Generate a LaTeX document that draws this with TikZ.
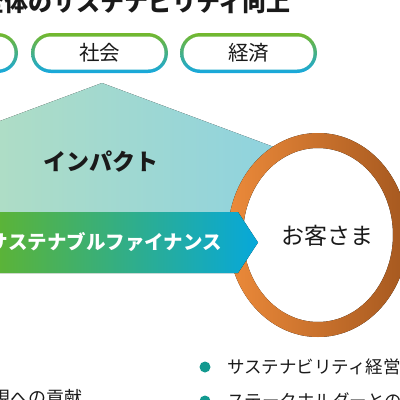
\documentclass[tikz,border=0pt]{standalone}
\usepackage{fontspec}
\setmainfont{Noto Sans CJK JP}
\definecolor{pillG}{HTML}{74B82C}
\definecolor{pillB}{HTML}{16A8E0}
\definecolor{pentL}{HTML}{B8E0BE}
\definecolor{pentR}{HTML}{8DD2E0}
\definecolor{arrL}{HTML}{5EB432}
\definecolor{arrM}{HTML}{119887}
\definecolor{arrR}{HTML}{06A8DA}
\definecolor{ringL}{HTML}{EC8A3A}
\definecolor{ringR}{HTML}{A5581F}
\definecolor{dotC}{HTML}{12998F}
\definecolor{txt}{HTML}{1A1A1A}
\tikzset{
  pillout/.style={rectangle, rounded corners=20pt, top color=pillG, bottom color=pillB,
    minimum width=137pt, minimum height=40pt, inner sep=0pt},
  pillin/.style={rectangle, rounded corners=16.5pt, fill=white,
    minimum width=130pt, minimum height=33pt, inner sep=0pt, text=txt,
    font=\fontsize{20.5}{20.5}\selectfont},
  lbl/.style={inner sep=0pt, text=txt},
  dotmark/.style={circle, fill=dotC, minimum size=11pt, inner sep=0pt}
}
\begin{document}
\begin{tikzpicture}[x=1pt,y=-1pt]
\useasboundingbox (0,0) rectangle (400,400);
\clip (0,0) rectangle (400,400);

% pentagon (impact)
\fill[left color=pentL, right color=pentR] (102,83) -- (290,153) -- (290,245) -- (-86,245) -- (-86,153) -- cycle;

% title
\node[lbl, anchor=east, font=\bfseries\fontsize{24}{24}\selectfont] (title) at (291,2) {社会全体のサステナビリティ向上};

% pills
\node[pillout] (p0o) at (-50.5,53) {};
\node[pillin] (p0) at (-50.5,53) {環境};
\node[pillout] (p1o) at (99.5,53) {};
\node[pillin] (p1) at (99.5,53) {社会};
\node[pillout] (p2o) at (248.5,53) {};
\node[pillin] (p2) at (248.5,53) {経済};

% impact label
\node[lbl, font=\bfseries\fontsize{23}{23}\selectfont] (impact) at (101,162) {インパクト};

% customer ring
\fill[white] (318,235) ellipse [x radius=75pt, y radius=87pt];
\fill[even odd rule, left color=ringL, right color=ringR]
  (318,235) ellipse [x radius=90pt, y radius=102pt]
  (318,235) ellipse [x radius=75pt, y radius=87pt];
\node[lbl, font=\fontsize{23}{23}\selectfont] (cust) at (327.5,236) {お客さま};

% sustainable finance arrow
\fill[left color=arrL, middle color=arrM, right color=arrR]
  (-10,212) -- (238,212) -- (258,242.5) -- (238,273) -- (-10,273) -- cycle;
\node[lbl, anchor=east, text=white, font=\bfseries\fontsize{19.5}{19.5}\selectfont] (sf) at (222,242) {サステナブルファイナンス};

% bullets
\node[dotmark] (d1) at (205,367) {};
\node[lbl, anchor=west, font=\fontsize{17.5}{17.5}\selectfont] (b1) at (227,367) {サステナビリティ経営};
\node[dotmark] (d2) at (205,401) {};
\node[lbl, anchor=west, font=\fontsize{17.5}{17.5}\selectfont] (b2) at (227,401) {ステークホルダーとの対話};

% bottom-left text
\node[lbl, anchor=east, font=\fontsize{18}{18}\selectfont] (bl) at (83,398) {社会の実現への貢献};
\end{tikzpicture}
\end{document}
